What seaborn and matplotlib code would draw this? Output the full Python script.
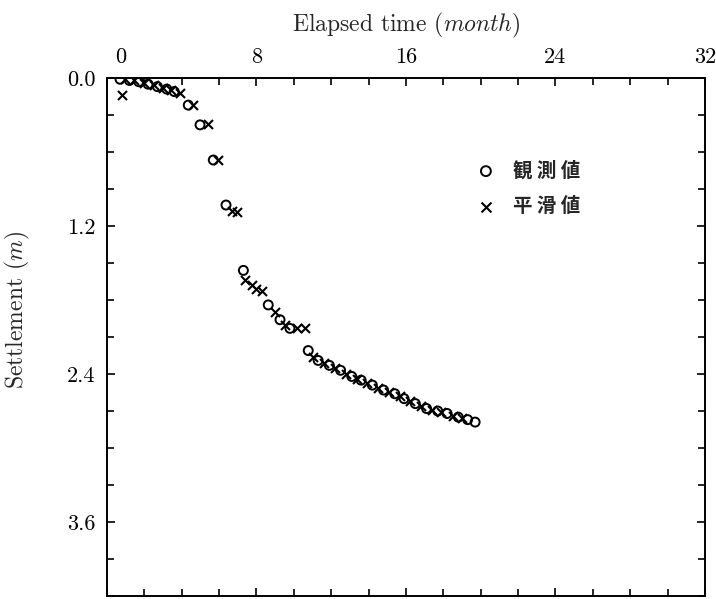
import numpy as np
import pandas as pd
import matplotlib
matplotlib.use("Agg")
import matplotlib.pyplot as plt
import matplotlib.transforms as mtransforms
from matplotlib.ticker import FixedLocator, MultipleLocator, FormatStrFormatter
import seaborn as sns

# observed settlement (circles)
obs_time = [0.7, 1.2, 1.7, 2.2, 2.7, 3.2, 3.6, 4.35, 4.98, 5.69, 6.37, 7.3,
            8.63, 9.26, 9.79, 10.77, 11.3, 11.9, 12.5, 13.1, 13.6, 14.2, 14.8,
            15.4, 15.9, 16.5, 17.1, 17.7, 18.2, 18.8, 19.3, 19.7]
obs_settle = [0.01, 0.02, 0.03, 0.05, 0.07, 0.09, 0.11, 0.22, 0.38, 0.665, 1.03, 1.56,
              1.84, 1.96, 2.03, 2.21, 2.29, 2.33, 2.37, 2.42, 2.45, 2.49, 2.53,
              2.56, 2.60, 2.64, 2.68, 2.70, 2.72, 2.75, 2.77, 2.79]

# smoothed settlement (crosses)
smo_time = [0.79, 0.95, 1.45, 2.0, 2.5, 3.0, 3.4, 3.9, 4.6, 5.42, 5.96, 6.67, 6.97,
            7.38, 7.74, 8.0, 8.28, 8.99, 9.52, 10.15, 10.59, 11.0, 11.6, 12.2,
            12.8, 13.4, 13.9, 14.5, 15.1, 15.7, 16.2, 16.8, 17.4, 17.9, 18.5, 19.0]
smo_settle = [0.14, 0.01, 0.02, 0.04, 0.06, 0.08, 0.10, 0.12, 0.22, 0.375, 0.665, 1.08, 1.09,
              1.64, 1.68, 1.71, 1.73, 1.90, 2.0, 2.03, 2.03, 2.26, 2.31, 2.35,
              2.40, 2.44, 2.47, 2.51, 2.55, 2.58, 2.62, 2.66, 2.69, 2.71, 2.74, 2.76]

legend_labels = ["観 測 値", "平 滑 値"]

obs = pd.DataFrame({"time": obs_time, "settle": obs_settle})
smo = pd.DataFrame({"time": smo_time, "settle": smo_settle})

sns.set_theme(style="ticks")
plt.rcParams["font.family"] = ["cmr10", "DejaVu Serif"]
plt.rcParams["mathtext.fontset"] = "cm"
plt.rcParams["axes.formatter.use_mathtext"] = True

fig = plt.figure(figsize=(7.16, 5.99), dpi=100)
ax = fig.add_axes([0.1494, 0.005, 0.8352, 0.8648])

sns.scatterplot(data=obs, x="time", y="settle", ax=ax, marker="o", s=42,
                facecolor="none", edgecolor="black", linewidth=1.4,
                label=legend_labels[0])
sns.scatterplot(data=smo, x="time", y="settle", ax=ax, marker="x", s=42,
                color="black", linewidth=1.5, label=legend_labels[1])

ax.set_xlim(0, 32)
ax.set_ylim(4.2, 0)
ax.xaxis.set_major_locator(FixedLocator([0, 8, 16, 24, 32]))
ax.xaxis.set_minor_locator(MultipleLocator(2))
ax.yaxis.set_major_locator(FixedLocator([0.0, 1.2, 2.4, 3.6]))
ax.yaxis.set_minor_locator(MultipleLocator(0.3))
ax.yaxis.set_major_formatter(FormatStrFormatter("%.1f"))
ax.xaxis.set_major_formatter(FormatStrFormatter("%d"))

ax.tick_params(which="both", direction="in", top=True, bottom=True, left=True,
               right=True, labeltop=True, labelbottom=False, labelsize=16,
               width=1.2, colors="black")
ax.tick_params(which="major", length=6, pad=8)
ax.tick_params(which="minor", length=5)
for sp in ax.spines.values():
    sp.set_linewidth(1.4)
    sp.set_color("black")

ax.xaxis.set_label_position("top")
ax.set_xlabel(r"Elapsed time ($month$)", fontsize=17)
ax.set_ylabel(r"Settlement ($m$)", fontsize=17)
ax.xaxis.set_label_coords(0.5, 1.09)
ax.yaxis.set_label_coords(-0.125, 0.552)

# the 0 label sits a little to the right of the corner
lbl0 = ax.xaxis.get_majorticklabels()[0]
lbl0.set_transform(lbl0.get_transform() +
                   mtransforms.ScaledTranslation(0.14, 0, fig.dpi_scale_trans))

leg = ax.legend(loc="upper left", bbox_to_anchor=(0.58, 0.874), frameon=False,
                handlelength=1.5, handletextpad=0.65, labelspacing=0.85,
                markerscale=1.1,
                prop={"family": ["Noto Sans CJK JP"], "weight": "bold", "size": 14})

fig.savefig("out.png", dpi=100)
